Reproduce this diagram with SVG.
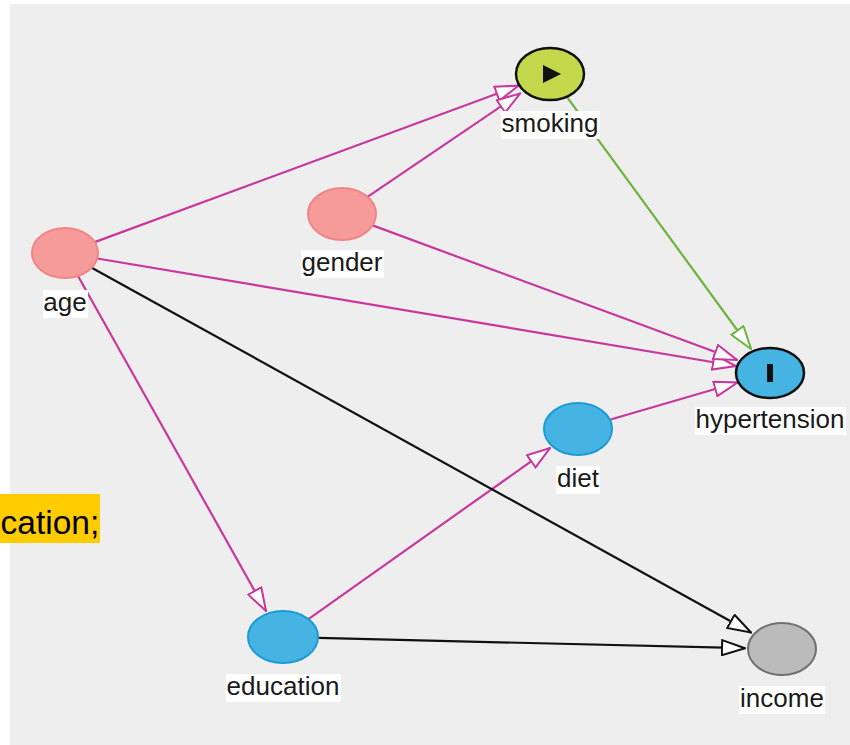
<svg xmlns="http://www.w3.org/2000/svg" width="850" height="745" viewBox="0 0 850 745">
<style>
.lbl{font-family:"Liberation Sans",Arial,sans-serif;font-size:26px;fill:#1a1a1a;text-anchor:middle}
.lbg{fill:#ffffff}
.e{fill:none;stroke-width:2.2}
.m{stroke:#c8379c;marker-end:url(#am)}
.k{stroke:#111111;marker-end:url(#ak)}
.g{stroke:#6db33f;marker-end:url(#ag)}
.pink{fill:#f79a9a;stroke:#f08585;stroke-width:2}
.blue{fill:#46b4e3;stroke:#1b9bd4;stroke-width:2}
</style>
<defs>
<marker id="am" viewBox="0 0 25 17" refX="24" refY="8.5" markerWidth="25" markerHeight="17" markerUnits="userSpaceOnUse" orient="auto"><path d="M1,1 L24,8.5 L1,16 Z" fill="#fff" stroke="#c8379c" stroke-width="2"/></marker>
<marker id="ak" viewBox="0 0 25 17" refX="24" refY="8.5" markerWidth="25" markerHeight="17" markerUnits="userSpaceOnUse" orient="auto"><path d="M1,1 L24,8.5 L1,16 Z" fill="#fff" stroke="#111" stroke-width="2"/></marker>
<marker id="ag" viewBox="0 0 25 17" refX="24" refY="8.5" markerWidth="25" markerHeight="17" markerUnits="userSpaceOnUse" orient="auto"><path d="M1,1 L24,8.5 L1,16 Z" fill="#fff" stroke="#6db33f" stroke-width="2"/></marker>
</defs>
<rect x="0" y="0" width="850" height="745" fill="#ffffff"/>
<rect x="10" y="4" width="840" height="741" fill="#eeeeee"/>
<g id="edges">
<line class="e m" x1="94.7" y1="242.1" x2="518.4" y2="85.7"/>
<line class="e m" x1="367.5" y1="196.8" x2="520" y2="93.5"/>
<line class="e m" x1="97.2" y1="258.5" x2="735.9" y2="366"/>
<line class="e m" x1="372.6" y1="225.4" x2="737" y2="360"/>
<line class="e m" x1="609.8" y1="419.7" x2="737.4" y2="382.5"/>
<line class="e m" x1="78" y1="276" x2="266" y2="611"/>
<line class="e m" x1="308.4" y1="619.1" x2="550" y2="448"/>
<line class="e g" x1="566.7" y1="96.6" x2="751" y2="349"/>
<line class="e k" x1="91.7" y1="267.7" x2="751" y2="632.5"/>
<line class="e k" x1="318.5" y1="637.9" x2="745" y2="648.2"/>
</g>
<g id="node-age">
<ellipse class="pink" cx="65" cy="253" rx="33" ry="25"/>
<rect class="lbg" x="43" y="290" width="45" height="28"/>
<text class="lbl" x="65" y="311">age</text>
</g>
<g id="node-gender">
<ellipse class="pink" cx="342" cy="214" rx="34" ry="26"/>
<rect class="lbg" x="301" y="250" width="83" height="28"/>
<text class="lbl" x="342" y="271">gender</text>
</g>
<g id="node-smoking">
<ellipse cx="550" cy="74" rx="34" ry="26" fill="#c3d84a" stroke="#111" stroke-width="2.5"/>
<polygon points="543,65 561,74 543,83" fill="#111"/>
<rect class="lbg" x="501" y="111" width="99" height="28"/>
<text class="lbl" x="550" y="132">smoking</text>
</g>
<g id="node-hypertension">
<ellipse cx="770" cy="373" rx="34" ry="25" fill="#46b4e3" stroke="#111" stroke-width="2.5"/>
<rect x="767" y="364" width="6" height="18" fill="#111"/>
<rect class="lbg" x="695" y="407" width="151" height="28"/>
<text class="lbl" x="770" y="428">hypertension</text>
</g>
<g id="node-diet">
<ellipse class="blue" cx="578" cy="429" rx="34" ry="26"/>
<rect class="lbg" x="556" y="466" width="44" height="28"/>
<text class="lbl" x="578" y="487">diet</text>
</g>
<g id="node-education">
<ellipse class="blue" cx="283" cy="637" rx="35" ry="26"/>
<rect class="lbg" x="226" y="674" width="115" height="28"/>
<text class="lbl" x="283" y="695">education</text>
</g>
<g id="node-income">
<ellipse cx="782" cy="649" rx="34" ry="26" fill="#bbbbbb" stroke="#707070" stroke-width="2"/>
<rect class="lbg" x="739" y="686" width="86" height="28"/>
<text class="lbl" x="782" y="707">income</text>
</g>
<g id="note">
<rect x="0" y="494" width="100" height="49" fill="#ffcc00"/>
<text x="0.5" y="534" font-family="Liberation Sans, Arial, sans-serif" font-size="33.5" fill="#000">cation;</text>
</g>
</svg>
